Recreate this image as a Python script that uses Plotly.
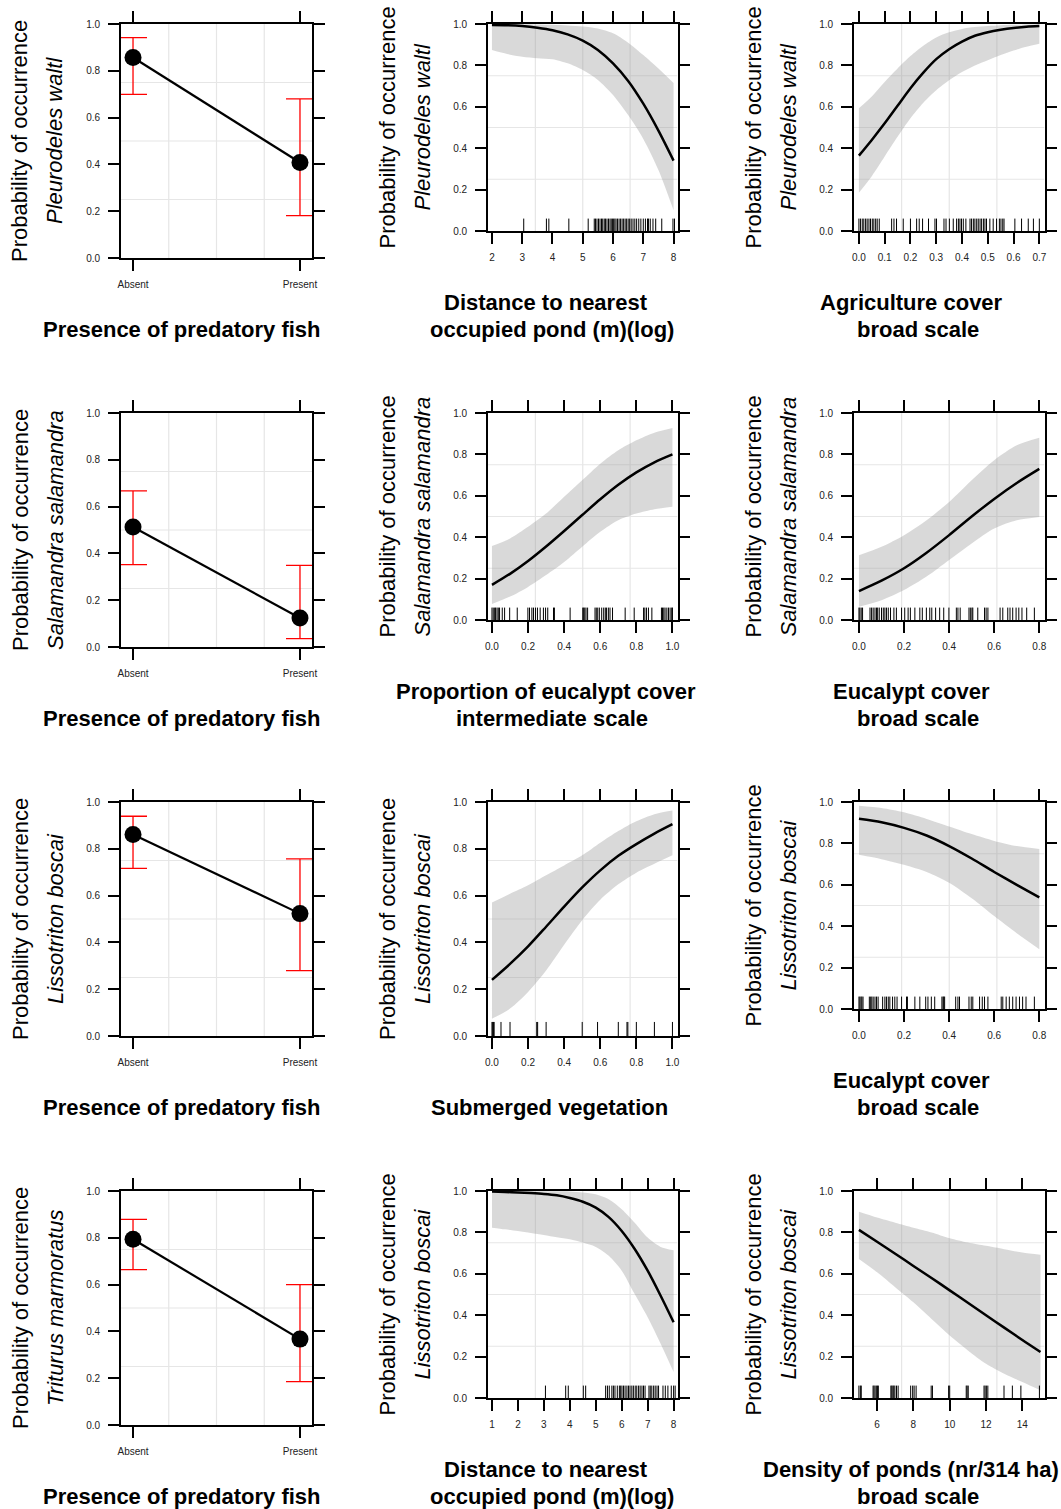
import plotly.graph_objects as go

W, H = 1061, 1509

# ------------------------------------------------------------------ data
fish_levels = ["Absent", "Present"]

pw_fish_fit = [0.857, 0.408]
pw_fish_lower = [0.699, 0.181]
pw_fish_upper = [0.942, 0.680]

ss_fish_fit = [0.513, 0.124]
ss_fish_lower = [0.352, 0.036]
ss_fish_upper = [0.667, 0.349]

lb_fish_fit = [0.861, 0.523]
lb_fish_lower = [0.716, 0.279]
lb_fish_upper = [0.939, 0.757]

tm_fish_fit = [0.794, 0.367]
tm_fish_lower = [0.664, 0.185]
tm_fish_upper = [0.879, 0.600]

# Pleurodeles waltl ~ distance to nearest occupied pond (log)
pw_dist_x = [2, 2.5, 3, 3.5, 4, 4.5, 5, 5.5, 6, 6.5, 7, 7.5, 8]
pw_dist_fit = [0.995, 0.994, 0.99, 0.982, 0.97, 0.95, 0.92, 0.875, 0.81, 0.725, 0.615, 0.485, 0.34]
pw_dist_upper = [0.999, 0.999, 0.999, 0.998, 0.996, 0.993, 0.988, 0.978, 0.955, 0.91, 0.85, 0.785, 0.715]
pw_dist_lower = [0.874, 0.855, 0.842, 0.835, 0.83, 0.81, 0.778, 0.73, 0.657, 0.56, 0.445, 0.295, 0.10]
pw_dist_rug = [3.05, 3.80, 3.88, 4.54, 5.18, 5.38, 5.42, 5.47, 5.52, 5.57, 5.62, 5.66, 5.71,
               5.75, 5.80, 5.85, 5.90, 5.94, 5.98, 6.02, 6.06, 6.10, 6.15, 6.20, 6.25, 6.30,
               6.35, 6.40, 6.45, 6.50, 6.55, 6.60, 6.66, 6.72, 6.78, 6.85, 6.92, 7.00, 7.07,
               7.14, 7.17, 7.23, 7.32, 7.41, 7.61, 7.98, 8.03]

# Pleurodeles waltl ~ agriculture cover broad scale
pw_agri_x = [0.0, 0.05, 0.1, 0.15, 0.2, 0.25, 0.3, 0.35, 0.4, 0.45, 0.5, 0.55, 0.6, 0.65, 0.7]
pw_agri_fit = [0.364, 0.44, 0.52, 0.605, 0.69, 0.765, 0.83, 0.878, 0.915, 0.943, 0.96, 0.972, 0.981, 0.987, 0.99]
pw_agri_upper = [0.593, 0.65, 0.72, 0.785, 0.845, 0.895, 0.935, 0.96, 0.976, 0.985, 0.99, 0.994, 0.996, 0.998, 0.999]
pw_agri_lower = [0.185, 0.265, 0.36, 0.455, 0.545, 0.62, 0.68, 0.728, 0.768, 0.80, 0.825, 0.85, 0.872, 0.89, 0.905]
pw_agri_rug = [0.0, 0.006, 0.013, 0.019, 0.026, 0.032, 0.039, 0.045, 0.052, 0.058, 0.065, 0.071,
               0.079, 0.127, 0.136, 0.146, 0.172, 0.2, 0.224, 0.234, 0.247, 0.27, 0.295, 0.301,
               0.33, 0.338, 0.351, 0.366, 0.379, 0.386, 0.392, 0.398, 0.405, 0.415, 0.431,
               0.437, 0.444, 0.45, 0.457, 0.463, 0.47, 0.476, 0.483, 0.489, 0.495, 0.508,
               0.521, 0.534, 0.545, 0.551, 0.558, 0.563, 0.605, 0.631, 0.657, 0.677, 0.7]

# Salamandra salamandra ~ eucalypt cover intermediate scale
ss_euci_x = [0.0, 0.1, 0.2, 0.3, 0.4, 0.5, 0.6, 0.7, 0.8, 0.9, 1.0]
ss_euci_fit = [0.17, 0.223, 0.285, 0.355, 0.43, 0.507, 0.583, 0.653, 0.713, 0.762, 0.80]
ss_euci_upper = [0.357, 0.394, 0.45, 0.514, 0.595, 0.675, 0.755, 0.82, 0.868, 0.905, 0.928]
ss_euci_lower = [0.077, 0.113, 0.16, 0.217, 0.28, 0.354, 0.426, 0.482, 0.514, 0.535, 0.547]
ss_euci_rug = [0.0, 0.007, 0.015, 0.02, 0.028, 0.035, 0.042, 0.057, 0.07, 0.098, 0.14, 0.199,
               0.208, 0.221, 0.23, 0.241, 0.252, 0.267, 0.285, 0.297, 0.309, 0.341, 0.346,
               0.433, 0.503, 0.508, 0.514, 0.521, 0.53, 0.571, 0.578, 0.586, 0.595, 0.608,
               0.619, 0.628, 0.635, 0.645, 0.654, 0.668, 0.738, 0.788, 0.84, 0.847, 0.856,
               0.867, 0.886, 0.939, 0.945, 0.952, 0.959, 0.969, 0.978, 0.987, 0.996, 1.0]

# Salamandra salamandra ~ eucalypt cover broad scale
ss_eucb_x = [0.0, 0.1, 0.2, 0.3, 0.4, 0.5, 0.6, 0.7, 0.8]
ss_eucb_fit = [0.14, 0.19, 0.25, 0.325, 0.41, 0.50, 0.585, 0.662, 0.73]
ss_eucb_upper = [0.313, 0.354, 0.41, 0.482, 0.57, 0.675, 0.772, 0.844, 0.88]
ss_eucb_lower = [0.064, 0.096, 0.145, 0.21, 0.29, 0.37, 0.442, 0.482, 0.498]
ss_eucb_rug = [0.0, 0.004, 0.01, 0.016, 0.049, 0.056, 0.063, 0.071, 0.078, 0.083, 0.09, 0.1,
               0.108, 0.115, 0.122, 0.13, 0.14, 0.155, 0.166, 0.189, 0.203, 0.218, 0.228,
               0.248, 0.27, 0.281, 0.299, 0.314, 0.323, 0.34, 0.358, 0.376, 0.399, 0.432,
               0.439, 0.449, 0.488, 0.494, 0.501, 0.505, 0.527, 0.557, 0.564, 0.572, 0.626,
               0.638, 0.66, 0.67, 0.682, 0.697, 0.709, 0.723, 0.744, 0.778]

# Lissotriton boscai ~ submerged vegetation
lb_subm_x = [0.0, 0.1, 0.2, 0.3, 0.4, 0.5, 0.6, 0.7, 0.8, 0.9, 1.0]
lb_subm_fit = [0.24, 0.308, 0.383, 0.467, 0.553, 0.635, 0.708, 0.77, 0.82, 0.865, 0.905]
lb_subm_upper = [0.57, 0.608, 0.644, 0.687, 0.729, 0.772, 0.826, 0.876, 0.918, 0.948, 0.964]
lb_subm_lower = [0.074, 0.117, 0.188, 0.28, 0.39, 0.495, 0.582, 0.648, 0.698, 0.736, 0.772]
lb_subm_rug = [0.0, 0.004, 0.008, 0.012, 0.05, 0.1, 0.248, 0.253, 0.3, 0.5, 0.585, 0.7,
               0.748, 0.753, 0.8, 0.9, 1.0]

# Lissotriton boscai ~ eucalypt cover broad scale
lb_eucb_x = [0.0, 0.1, 0.2, 0.3, 0.4, 0.5, 0.6, 0.7, 0.8]
lb_eucb_fit = [0.919, 0.902, 0.875, 0.838, 0.787, 0.727, 0.662, 0.60, 0.539]
lb_eucb_upper = [0.982, 0.971, 0.95, 0.918, 0.882, 0.845, 0.812, 0.787, 0.773]
lb_eucb_lower = [0.745, 0.724, 0.697, 0.662, 0.61, 0.535, 0.449, 0.366, 0.289]
lb_eucb_rug = [0.0, 0.004, 0.009, 0.013, 0.018, 0.046, 0.052, 0.057, 0.063, 0.071, 0.078,
               0.085, 0.105, 0.115, 0.122, 0.13, 0.137, 0.149, 0.159, 0.169, 0.189, 0.211,
               0.215, 0.248, 0.27, 0.296, 0.306, 0.321, 0.336, 0.368, 0.373, 0.376, 0.38,
               0.429, 0.439, 0.446, 0.488, 0.498, 0.505, 0.535, 0.547, 0.557, 0.572, 0.631,
               0.638, 0.653, 0.667, 0.682, 0.697, 0.712, 0.726, 0.741, 0.778]

# Lissotriton boscai ~ distance to nearest occupied pond (log)
lb_dist_x = [1, 1.5, 2, 2.5, 3, 3.5, 4, 4.5, 5, 5.5, 6, 6.5, 7, 7.5, 8]
lb_dist_fit = [0.997, 0.995, 0.993, 0.99, 0.986, 0.979, 0.966, 0.948, 0.92, 0.874, 0.807, 0.72, 0.615, 0.494, 0.366]
lb_dist_upper = [0.999, 0.999, 0.999, 0.999, 0.999, 0.999, 0.998, 0.993, 0.984, 0.96, 0.912, 0.847, 0.775, 0.73, 0.714]
lb_dist_lower = [0.823, 0.815, 0.807, 0.797, 0.788, 0.777, 0.767, 0.751, 0.73, 0.687, 0.615, 0.502, 0.39, 0.262, 0.125]
lb_dist_rug = [3.06, 3.84, 3.94, 4.52, 4.61, 5.38, 5.45, 5.52, 5.62, 5.68, 5.74, 5.83, 5.91,
               5.96, 6.01, 6.07, 6.13, 6.2, 6.26, 6.32, 6.39, 6.45, 6.52, 6.58, 6.65, 6.71,
               6.78, 6.84, 6.9, 7.05, 7.1, 7.16, 7.23, 7.29, 7.36, 7.42, 7.59, 7.68, 7.78,
               7.91, 8.0, 8.06]

# Lissotriton boscai ~ density of ponds broad scale
lb_dens_x = [5, 6, 7, 8, 9, 10, 11, 12, 13, 14, 15]
lb_dens_fit = [0.812, 0.755, 0.697, 0.638, 0.58, 0.52, 0.46, 0.40, 0.34, 0.28, 0.222]
lb_dens_upper = [0.90, 0.872, 0.847, 0.823, 0.80, 0.772, 0.751, 0.735, 0.719, 0.703, 0.692]
lb_dens_lower = [0.671, 0.607, 0.535, 0.462, 0.382, 0.302, 0.23, 0.165, 0.117, 0.077, 0.037]
lb_dens_rug = [5.0, 5.08, 5.13, 5.78, 5.83, 5.89, 5.96, 6.02, 6.07, 6.76, 6.81, 6.87, 6.92,
               6.98, 7.07, 7.16, 7.85, 7.96, 8.04, 8.15, 8.98, 9.05, 9.94, 10.0, 10.91, 10.96,
               11.02, 11.89, 11.95, 12.02, 12.1, 12.99, 13.45, 13.92, 14.94]

prob_ticks = [0.0, 0.2, 0.4, 0.6, 0.8, 1.0]

# ------------------------------------------------------------------ style
FONT = "Liberation Sans, Arial, Helvetica, sans-serif"
BAND = "rgba(150,150,150,0.36)"
GRID = "#e6e6e6"
RUG_H = 0.06
TICK_FONT = dict(family=FONT, size=10, color="#222222")

col_x = [(121, 312), (488, 677.5), (854, 1044.5)]
row_top = [24, 413, 802, 1191]
TALL, SHORT = 234, 207

panels = [
    dict(r=0, c=0, kind="cat", fit=pw_fish_fit, lo=pw_fish_lower, hi=pw_fish_upper,
         species="Pleurodeles waltl", h=TALL),
    dict(r=0, c=1, kind="cont", x=pw_dist_x, fit=pw_dist_fit, lo=pw_dist_lower, hi=pw_dist_upper,
         rug=pw_dist_rug, xr=[1.87, 8.13], tv=[2, 3, 4, 5, 6, 7, 8], fmt="d",
         species="Pleurodeles waltl", h=SHORT),
    dict(r=0, c=2, kind="cont", x=pw_agri_x, fit=pw_agri_fit, lo=pw_agri_lower, hi=pw_agri_upper,
         rug=pw_agri_rug, xr=[-0.019, 0.72], tv=[0, 0.1, 0.2, 0.3, 0.4, 0.5, 0.6, 0.7], fmt=".1f",
         species="Pleurodeles waltl", h=SHORT),
    dict(r=1, c=0, kind="cat", fit=ss_fish_fit, lo=ss_fish_lower, hi=ss_fish_upper,
         species="Salamandra salamandra", h=TALL),
    dict(r=1, c=1, kind="cont", x=ss_euci_x, fit=ss_euci_fit, lo=ss_euci_lower, hi=ss_euci_upper,
         rug=ss_euci_rug, xr=[-0.022, 1.028], tv=[0, 0.2, 0.4, 0.6, 0.8, 1.0], fmt=".1f",
         species="Salamandra salamandra", h=SHORT),
    dict(r=1, c=2, kind="cont", x=ss_eucb_x, fit=ss_eucb_fit, lo=ss_eucb_lower, hi=ss_eucb_upper,
         rug=ss_eucb_rug, xr=[-0.022, 0.823], tv=[0, 0.2, 0.4, 0.6, 0.8], fmt=".1f",
         species="Salamandra salamandra", h=SHORT),
    dict(r=2, c=0, kind="cat", fit=lb_fish_fit, lo=lb_fish_lower, hi=lb_fish_upper,
         species="Lissotriton boscai", h=TALL),
    dict(r=2, c=1, kind="cont", x=lb_subm_x, fit=lb_subm_fit, lo=lb_subm_lower, hi=lb_subm_upper,
         rug=lb_subm_rug, xr=[-0.022, 1.028], tv=[0, 0.2, 0.4, 0.6, 0.8, 1.0], fmt=".1f",
         species="Lissotriton boscai", h=TALL),
    dict(r=2, c=2, kind="cont", x=lb_eucb_x, fit=lb_eucb_fit, lo=lb_eucb_lower, hi=lb_eucb_upper,
         rug=lb_eucb_rug, xr=[-0.022, 0.823], tv=[0, 0.2, 0.4, 0.6, 0.8], fmt=".1f",
         species="Lissotriton boscai", h=SHORT),
    dict(r=3, c=0, kind="cat", fit=tm_fish_fit, lo=tm_fish_lower, hi=tm_fish_upper,
         species="Triturus marmoratus", h=TALL),
    dict(r=3, c=1, kind="cont", x=lb_dist_x, fit=lb_dist_fit, lo=lb_dist_lower, hi=lb_dist_upper,
         rug=lb_dist_rug, xr=[0.846, 8.15], tv=[1, 2, 3, 4, 5, 6, 7, 8], fmt="d",
         species="Lissotriton boscai", h=SHORT),
    dict(r=3, c=2, kind="cont", x=lb_dens_x, fit=lb_dens_fit, lo=lb_dens_lower, hi=lb_dens_upper,
         rug=lb_dens_rug, xr=[4.73, 15.22], tv=[6, 8, 10, 12, 14], fmt="d",
         species="Lissotriton boscai", h=SHORT),
]

# x-axis titles: (text, x-centre px, y-centre px)
x_titles = []
for r in range(4):
    x_titles.append(("Presence of predatory fish", 182, row_top[r] + 305))
x_titles += [
    ("Distance to nearest", 546, 24 + 278), ("occupied pond (m)(log)", 552, 24 + 305),
    ("Agriculture cover", 911, 24 + 278), ("broad scale", 918, 24 + 305),
    ("Proportion of eucalypt cover", 546, 413 + 278), ("intermediate scale", 552, 413 + 305),
    ("Eucalypt cover", 911, 413 + 278), ("broad scale", 918, 413 + 305),
    ("Submerged vegetation", 549, 802 + 305),
    ("Eucalypt cover", 911, 802 + 278), ("broad scale", 918, 802 + 305),
    ("Distance to nearest", 546, 1191 + 278), ("occupied pond (m)(log)", 552, 1191 + 305),
    ("Density of ponds (nr/314 ha)", 911, 1191 + 278), ("broad scale", 918, 1191 + 305),
]

fig = go.Figure()
shapes = []
annotations = []
layout_axes = {}

for i, p in enumerate(panels):
    k = i + 1
    xa = "x" if k == 1 else f"x{k}"
    ya = "y" if k == 1 else f"y{k}"
    xl, xr_px = col_x[p["c"]]
    top = row_top[p["r"]]
    bot = top + p["h"]
    dom_x = [xl / W, xr_px / W]
    dom_y = [1 - bot / H, 1 - top / H]

    if p["kind"] == "cat":
        xs = list(range(1, len(fish_levels) + 1))
        xrange = [0.928, 2.072]
        tickvals, ticktext = xs, fish_levels
        fmt = None
        fig.add_trace(go.Scatter(
            x=xs, y=p["fit"], mode="lines+markers", xaxis=xa, yaxis=ya,
            line=dict(color="black", width=2.2),
            marker=dict(color="black", size=17),
            error_y=dict(type="data", symmetric=False,
                         array=[h - f for h, f in zip(p["hi"], p["fit"])],
                         arrayminus=[f - l for f, l in zip(p["fit"], p["lo"])],
                         color="#ff0000", thickness=1.3, width=14),
            showlegend=False, hoverinfo="skip"))
    else:
        xrange = p["xr"]
        tickvals, ticktext = p["tv"], None
        fmt = p["fmt"]
        fig.add_trace(go.Scatter(x=p["x"], y=p["lo"], mode="lines", xaxis=xa, yaxis=ya,
                                 line=dict(width=0, shape="spline", smoothing=0.8),
                                 showlegend=False, hoverinfo="skip"))
        fig.add_trace(go.Scatter(x=p["x"], y=p["hi"], mode="lines", xaxis=xa, yaxis=ya,
                                 line=dict(width=0, shape="spline", smoothing=0.8), fill="tonexty",
                                 fillcolor=BAND, showlegend=False, hoverinfo="skip"))
        rx, ry = [], []
        for v in p["rug"]:
            rx += [v, v, None]
            ry += [0, RUG_H, None]
        fig.add_trace(go.Scatter(x=rx, y=ry, mode="lines", xaxis=xa, yaxis=ya,
                                 line=dict(color="black", width=1), showlegend=False,
                                 hoverinfo="skip"))
        fig.add_trace(go.Scatter(x=p["x"], y=p["fit"], mode="lines", xaxis=xa, yaxis=ya,
                                 line=dict(color="black", width=2.5, shape="spline", smoothing=0.8),
                                 showlegend=False, hoverinfo="skip"))

    # reference grid at quarter points of the panel
    span = xrange[1] - xrange[0]
    for q in (0.25, 0.5, 0.75):
        gx = xrange[0] + q * span
        shapes.append(dict(type="line", xref=xa, yref=ya, x0=gx, x1=gx, y0=0, y1=1,
                           line=dict(color=GRID, width=1.2), layer="below"))
        shapes.append(dict(type="line", xref=xa, yref=ya, x0=xrange[0], x1=xrange[1],
                           y0=q, y1=q, line=dict(color=GRID, width=1.2), layer="below"))

    common = dict(showline=True, linecolor="black", linewidth=1.6, mirror="ticks",
                  ticks="outside", ticklen=11, tickwidth=1.6, tickcolor="black",
                  showgrid=False, zeroline=False, tickfont=TICK_FONT, automargin=False)
    xaxis = dict(domain=dom_x, anchor=ya, range=xrange, tickvals=tickvals,
                 ticklabelstandoff=5, **common)
    if ticktext is not None:
        xaxis["ticktext"] = ticktext
    if fmt:
        xaxis["tickformat"] = fmt
    yaxis = dict(domain=dom_y, anchor=xa, range=[0, 1], tickvals=prob_ticks,
                 tickformat=".1f", ticklabelstandoff=6, **common)
    layout_axes["xaxis" if k == 1 else f"xaxis{k}"] = xaxis
    layout_axes["yaxis" if k == 1 else f"yaxis{k}"] = yaxis

    # y titles
    ymid = (top + bot) / 2
    annotations.append(dict(text="Probability of occurrence", x=(xl - 101) / W, y=1 - ymid / H,
                            xref="paper", yref="paper", showarrow=False, textangle=-90,
                            xanchor="center", yanchor="middle",
                            font=dict(family=FONT, size=22, color="black")))
    annotations.append(dict(text=f"<i>{p['species']}</i>", x=(xl - 66) / W, y=1 - ymid / H,
                            xref="paper", yref="paper", showarrow=False, textangle=-90,
                            xanchor="center", yanchor="middle",
                            font=dict(family=FONT, size=22, color="black")))

for text, cx, cy in x_titles:
    annotations.append(dict(text=f"<b>{text}</b>", x=cx / W, y=1 - cy / H, xref="paper",
                            yref="paper", showarrow=False, xanchor="center", yanchor="middle",
                            font=dict(family=FONT, size=22, color="black")))

fig.update_layout(width=W, height=H,
                  margin=dict(l=0, r=0, t=0, b=0, pad=0, autoexpand=False),
                  paper_bgcolor="white", plot_bgcolor="white", showlegend=False,
                  shapes=shapes, annotations=annotations, **layout_axes)

fig.write_html(
    "out.html",
    config={"displayModeBar": False},
    post_script=("document.documentElement.style.margin='0';"
                 "document.documentElement.style.overflow='hidden';"
                 "document.body.style.margin='0';document.body.style.padding='0';"
                 "document.body.style.overflow='hidden';window.scrollTo(0,0);"),
)
